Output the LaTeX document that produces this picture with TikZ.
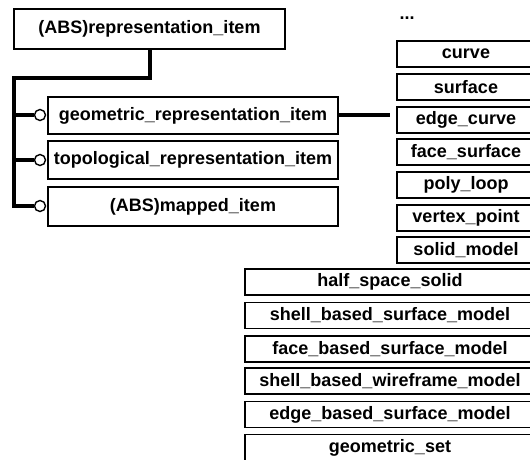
\documentclass[tikz,border=0pt]{standalone}
\usepackage{fontspec}
\setmainfont{Liberation Sans}
\begin{document}
\begin{tikzpicture}[x=1pt,y=-1pt,
  box/.style={draw=black,line width=1.5pt,fill=white,inner sep=0pt,
    font=\fontsize{18}{21}\selectfont\bfseries},
  conn/.style={line width=3.3pt},
  ring/.style={draw=black,line width=1.4pt,fill=white,circle,inner sep=0pt,minimum size=11pt}]
\useasboundingbox (0,0) rectangle (530,459);
\begin{scope}
\clip (0,0) rectangle (530,459);
% left part
\node[box,minimum width=271pt,minimum height=40pt] (rep) at (149.5,29) {(ABS)representation\_item};
\node[box,minimum width=290pt,minimum height=37pt] (geo) at (193,115.5) {geometric\_representation\_item};
\node[box,minimum width=290pt,minimum height=38pt] (topo) at (193,160) {topological\_representation\_item};
\node[box,minimum width=290pt,minimum height=39pt] (map) at (193,206.5) {(ABS)mapped\_item};
\node[ring] (c1) at (40,115) {};
\node[ring] (c2) at (40,160) {};
\node[ring] (c3) at (40,206) {};
\coordinate (b0) at (150,78);
\coordinate (v0) at (14,78);
\coordinate (v1) at (14,115);
\coordinate (v2) at (14,160);
\coordinate (v3) at (14,206);
\draw[conn] (rep.south -| b0) -- (b0) -- (v0) -- ([yshift=-1.6pt]v3);
\draw[conn] (v1) -- (c1.west);
\draw[conn] (v2) -- (c2.west);
\draw[conn] (v3) -- (c3.west);
% right column
\node[font=\fontsize{18}{21}\selectfont\bfseries] (dots) at (407,18) {...};
\node[box,minimum width=138pt,minimum height=26pt] (curve) at (466,54) {curve};
\node[box,minimum width=138pt,minimum height=26pt] (surf) at (466,87) {surface};
\node[box,minimum width=138pt,minimum height=26pt] (edge) at (466,120) {edge\_curve};
\node[box,minimum width=138pt,minimum height=26pt] (face) at (466,152) {face\_surface};
\node[box,minimum width=138pt,minimum height=26pt] (poly) at (466,185) {poly\_loop};
\node[box,minimum width=138pt,minimum height=26pt] (vert) at (466,218) {vertex\_point};
\node[box,minimum width=138pt,minimum height=26pt] (solid) at (466,250) {solid\_model};
\coordinate (pe) at (390,115);
\draw[conn] (geo.east |- pe) -- (pe);
% lower column
\node[box,minimum width=290pt,minimum height=26pt] (half) at (390,282) {half\_space\_solid};
\node[box,minimum width=290pt,minimum height=26pt] (sbsm) at (390,315.5) {shell\_based\_surface\_model};
\node[box,minimum width=290pt,minimum height=26pt] (fbsm) at (390,349) {face\_based\_surface\_model};
\node[box,minimum width=290pt,minimum height=26pt] (sbwm) at (390,381) {shell\_based\_wireframe\_model};
\node[box,minimum width=290pt,minimum height=26pt] (ebsm) at (390,414.5) {edge\_based\_surface\_model};
\node[box,minimum width=290pt,minimum height=26pt] (gset) at (390,447.5) {geometric\_set};
\end{scope}
\end{tikzpicture}
\end{document}
